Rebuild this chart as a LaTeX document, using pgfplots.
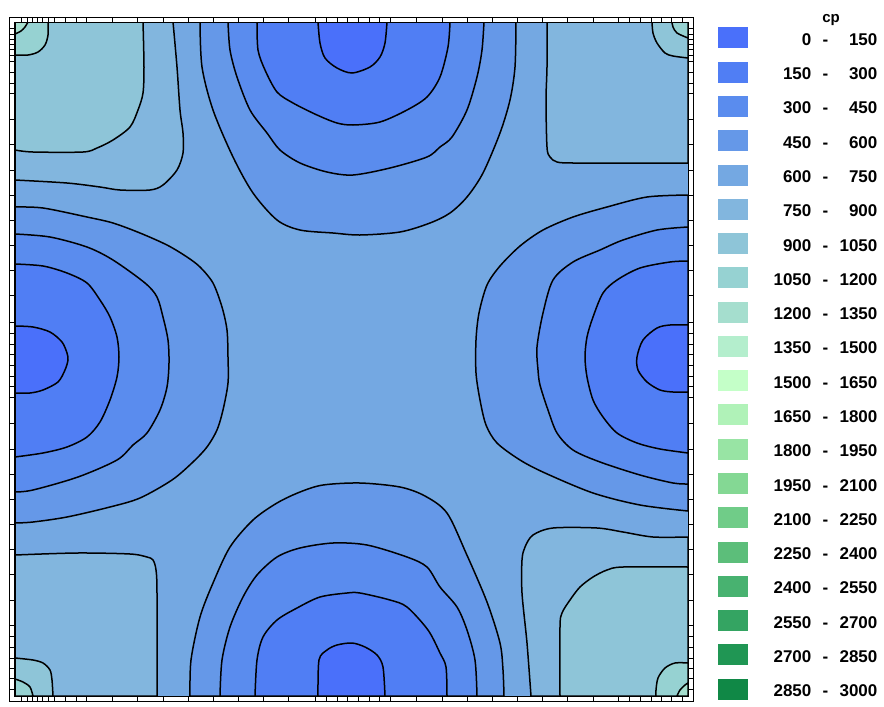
\documentclass[border=0pt]{standalone}
\usepackage{pgfplots}
\pgfplotsset{compat=1.18}
\usepackage{fontspec}
\setmainfont{Liberation Sans}

% colour bands of cp, 150 wide each
\definecolor{c0}{RGB}{74,112,250}
\definecolor{c1}{RGB}{80,126,244}
\definecolor{c2}{RGB}{90,140,238}
\definecolor{c3}{RGB}{101,152,232}
\definecolor{c4}{RGB}{116,168,226}
\definecolor{c5}{RGB}{130,182,222}
\definecolor{c6}{RGB}{142,197,216}
\definecolor{c7}{RGB}{150,210,210}
\definecolor{c8}{RGB}{165,222,206}
\definecolor{c9}{RGB}{180,238,205}
\definecolor{c10}{RGB}{196,255,200}
\definecolor{c11}{RGB}{176,242,184}
\definecolor{c12}{RGB}{152,228,164}
\definecolor{c13}{RGB}{132,216,148}
\definecolor{c14}{RGB}{112,204,136}
\definecolor{c15}{RGB}{92,190,122}
\definecolor{c16}{RGB}{72,178,112}
\definecolor{c17}{RGB}{52,164,98}
\definecolor{c18}{RGB}{32,150,84}
\definecolor{c19}{RGB}{16,136,70}

\newcommand{\lgd}[2]{\makebox[19pt][r]{#1}\makebox[14pt][c]{-}\makebox[19pt][r]{#2}}

\begin{document}
\begin{tikzpicture}
\begin{axis}[
  x=0.5pt, y=0.5pt, y dir=reverse,
  xmin=15, xmax=688, ymin=22, ymax=696,
  axis on top, clip=true, clip mode=individual,
  xtick={21,27,32,37,42,48,54,65,76,86,112,137,163,188,213,238,263,288,315,326,337,347,358,369,379,390,416,442,467,492,517,542,567,593,618,629,640,651,661,671,682},
  ytick={28,34,39,44,49,55,61,72,83,93,119,144,170,195,220,245,270,295,322,333,344,354,365,376,386,397,423,449,474,499,524,549,574,600,625,636,647,658,668,678,689},
  xticklabels={}, yticklabels={},
  tick align=outside, major tick length=2.5pt, tick pos=both,
  every tick/.style={black, line width=0.5pt},
  axis line style={black, line width=0.5pt},
  contour/.style={draw=black, line width=0.75pt, smooth, tension=0.5, forget plot},
  legend style={at={(1.04458,0.99258)}, anchor=north west, draw=none, fill=none,
    inner sep=0pt, row sep=6.64pt, column sep=12.5pt,
    font=\fontsize{8.5}{10}\selectfont\bfseries,
    nodes={inner sep=0pt, text height=7.5pt, text depth=0pt}},
  legend cell align=right,
  legend image code/.code={\fill[#1, draw=none] (0pt,-5.25pt) rectangle (15pt,5.25pt);},
]
% base level 600 - 750
\addplot[fill=c4, draw=none, forget plot] coordinates {(15,22) (688,22) (688,696) (15,696)} -- cycle;

% ---- top minimum
\addplot[contour, fill=c3] coordinates {(200,22) (202,67) (213,110) (233,157) (253,193) (277,220) (300,230) (333,233) (360,235) (400,232) (430,223) (450,213) (467,197) (483,173) (500,133) (510,100) (515,67) (516,22)} -- cycle;
\addplot[contour, fill=c2] coordinates {(228,22) (230,50) (237,77) (250,110) (267,133) (280,150) (300,163) (327,172) (353,175) (390,168) (427,157) (440,147) (452,137) (467,110) (477,77) (482,50) (484,22)} -- cycle;
\addplot[contour, fill=c1] coordinates {(257,22) (258,50) (265,70) (277,92) (293,103) (317,115) (337,123) (353,125) (380,122) (407,110) (427,97) (440,77) (448,47) (450,22)} -- cycle;
\addplot[contour, fill=c0] coordinates {(318,22) (320,43) (325,58) (337,68) (352,73) (370,67) (380,57) (385,43) (387,22)} -- cycle;

% ---- bottom minimum
\addplot[contour, fill=c3] coordinates {(190,696) (191,660) (200,617) (213,583) (230,547) (253,520) (277,503) (300,492) (323,485) (360,483) (400,487) (425,496) (447,513) (466,553) (487,602) (500,643) (503,670) (504,696)} -- cycle;
\addplot[contour, fill=c2] coordinates {(220,696) (222,660) (230,627) (243,597) (257,575) (277,557) (300,548) (333,543) (367,545) (407,557) (427,567) (440,587) (457,607) (467,630) (475,660) (477,696)} -- cycle;
\addplot[contour, fill=c1] coordinates {(255,696) (257,660) (263,637) (277,620) (297,608) (320,597) (347,593) (360,593) (390,600) (407,607) (428,630) (440,653) (446,667) (447,696)} -- cycle;
\addplot[contour, fill=c0] coordinates {(318,696) (319,660) (327,650) (337,645) (352,643) (365,647) (377,655) (383,667) (385,696)} -- cycle;

% ---- left minimum
\addplot[contour, fill=c3] coordinates {(15,207) (43,208) (87,217) (113,223) (140,233) (167,245) (187,257) (200,267) (213,283) (222,307) (227,330) (228,357) (228,383) (223,410) (217,430) (207,447) (193,462) (172,480) (140,498) (110,507) (67,517) (33,522) (15,523)} -- cycle;
\addplot[contour, fill=c2] coordinates {(15,234) (50,237) (87,247) (113,260) (145,283) (157,297) (163,317) (168,340) (169,363) (167,387) (160,410) (147,433) (133,445) (117,460) (78,477) (33,490) (15,492)} -- cycle;
\addplot[contour, fill=c1] coordinates {(15,264) (43,266) (67,273) (87,283) (100,300) (110,317) (117,337) (119,357) (117,377) (110,400) (100,422) (87,437) (67,447) (43,453) (15,457)} -- cycle;
\addplot[contour, fill=c0] coordinates {(15,326) (33,327) (50,332) (62,342) (67,353) (68,360) (65,370) (58,382) (43,390) (30,393) (15,393)} -- cycle;

% ---- right minimum
\addplot[contour, fill=c3] coordinates {(688,195) (647,197) (607,207) (573,217) (543,230) (520,246) (500,266) (487,285) (479,313) (476,340) (476,373) (480,400) (486,425) (497,443) (520,460) (545,473) (593,493) (640,505) (688,511)} -- cycle;
\addplot[contour, fill=c2] coordinates {(688,227) (657,230) (623,240) (600,250) (573,262) (553,280) (543,313) (537,347) (538,370) (540,385) (548,410) (557,433) (573,450) (600,462) (640,475) (673,483) (688,484)} -- cycle;
\addplot[contour, fill=c1] coordinates {(688,261) (670,262) (640,268) (617,280) (603,293) (593,317) (587,337) (585,357) (587,377) (593,400) (603,417) (617,433) (637,443) (660,449) (688,453)} -- cycle;
\addplot[contour, fill=c0] coordinates {(688,325) (670,325) (657,328) (643,340) (637,357) (638,370) (647,382) (660,390) (673,392) (688,392)} -- cycle;

% ---- top-left corner (high)
\addplot[contour, fill=c5] coordinates {(173,22) (177,67) (180,110) (183,133) (183,153) (177,170) (163,185) (150,190) (120,190) (100,187) (67,183) (15,180)} -- (axis cs:15,22) -- cycle;
\addplot[contour, fill=c6] coordinates {(143,22) (144,67) (143,93) (138,110) (130,127) (113,140) (97,148) (83,152) (33,152) (15,150)} -- (axis cs:15,22) -- cycle;
\addplot[contour, fill=c7] coordinates {(48,22) (48,35) (45,45) (38,52) (28,55) (15,55)} -- (axis cs:15,22) -- cycle;
\addplot[contour, fill=c8] coordinates {(28,22) (25,27) (21,31) (15,34)} -- (axis cs:15,22) -- cycle;

% ---- bottom-right corner (high)
\addplot[contour, fill=c5] coordinates {(688,537) (653,537) (623,532) (597,528) (553,528) (533,535) (525,547) (522,560) (522,593) (527,643) (531,696)} -- (axis cs:688,696) -- cycle;
\addplot[contour, fill=c6] coordinates {(688,567) (623,567) (607,570) (593,577) (580,587) (570,600) (562,613) (560,627) (560,696)} -- (axis cs:688,696) -- cycle;
\addplot[contour, fill=c7] coordinates {(688,663) (675,663) (665,668) (658,678) (656,690) (656,696)} -- (axis cs:688,696) -- cycle;
\addplot[contour, fill=c8] coordinates {(688,683) (685,685) (680,690) (677,696)} -- (axis cs:688,696) -- cycle;

% ---- top-right corner (low)
\addplot[contour, fill=c5] coordinates {(547,22) (547,67) (546,100) (547,147) (550,157) (557,162) (573,163) (630,163) (688,163)} -- (axis cs:688,22) -- cycle;
\addplot[contour, fill=c6] coordinates {(652,22) (653,33) (657,43) (665,53) (673,56) (688,58)} -- (axis cs:688,22) -- cycle;
\addplot[contour, fill=c7] coordinates {(672,22) (673,27) (677,33) (688,38)} -- (axis cs:688,22) -- cycle;

% ---- bottom-left corner (low)
\addplot[contour, fill=c5] coordinates {(15,555) (77,553) (130,554) (147,557) (153,560) (156,570) (157,593) (157,696)} -- (axis cs:15,696) -- cycle;
\addplot[contour, fill=c6] coordinates {(15,658) (33,660) (43,663) (50,670) (52,680) (53,696)} -- (axis cs:15,696) -- cycle;
\addplot[contour, fill=c7] coordinates {(15,679) (23,682) (30,687) (33,696)} -- (axis cs:15,696) -- cycle;

% outer frame of the plot box
\draw[black, line width=0.5pt] (axis cs:10,17) rectangle (axis cs:693,701);

% legend
\addlegendimage{fill=c0}\addlegendentry{\lgd{0}{150}}
\addlegendimage{fill=c1}\addlegendentry{\lgd{150}{300}}
\addlegendimage{fill=c2}\addlegendentry{\lgd{300}{450}}
\addlegendimage{fill=c3}\addlegendentry{\lgd{450}{600}}
\addlegendimage{fill=c4}\addlegendentry{\lgd{600}{750}}
\addlegendimage{fill=c5}\addlegendentry{\lgd{750}{900}}
\addlegendimage{fill=c6}\addlegendentry{\lgd{900}{1050}}
\addlegendimage{fill=c7}\addlegendentry{\lgd{1050}{1200}}
\addlegendimage{fill=c8}\addlegendentry{\lgd{1200}{1350}}
\addlegendimage{fill=c9}\addlegendentry{\lgd{1350}{1500}}
\addlegendimage{fill=c10}\addlegendentry{\lgd{1500}{1650}}
\addlegendimage{fill=c11}\addlegendentry{\lgd{1650}{1800}}
\addlegendimage{fill=c12}\addlegendentry{\lgd{1800}{1950}}
\addlegendimage{fill=c13}\addlegendentry{\lgd{1950}{2100}}
\addlegendimage{fill=c14}\addlegendentry{\lgd{2100}{2250}}
\addlegendimage{fill=c15}\addlegendentry{\lgd{2250}{2400}}
\addlegendimage{fill=c16}\addlegendentry{\lgd{2400}{2550}}
\addlegendimage{fill=c17}\addlegendentry{\lgd{2550}{2700}}
\addlegendimage{fill=c18}\addlegendentry{\lgd{2700}{2850}}
\addlegendimage{fill=c19}\addlegendentry{\lgd{2850}{3000}}

\node[anchor=base, font=\fontsize{7.5}{9}\selectfont\bfseries] at (axis cs:831,22) {cp};

\coordinate (bbA) at (axis cs:0,0);
\coordinate (bbB) at (axis cs:884,707);
\end{axis}
\pgfresetboundingbox
\path[use as bounding box] (bbA) rectangle (bbB);
\end{tikzpicture}
\end{document}
